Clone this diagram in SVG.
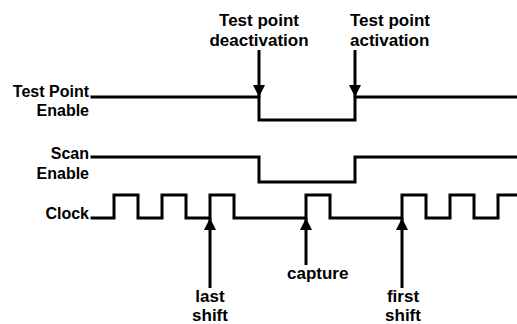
<svg xmlns="http://www.w3.org/2000/svg" width="517" height="324" viewBox="0 0 517 324">
<defs>
<style>
text{font-family:"Liberation Sans",Arial,sans-serif;font-weight:bold;fill:#000}
.lbl{font-size:16px;text-anchor:end}
.ann{font-size:17px}
.sig{fill:none;stroke:#000;stroke-width:3;stroke-linejoin:miter;stroke-linecap:square}
.arr{fill:none;stroke:#000;stroke-width:3}
</style>
<marker id="ah" viewBox="0 0 12 12" refX="12" refY="6" markerWidth="12" markerHeight="12" markerUnits="userSpaceOnUse" orient="auto">
<path d="M0,0 L12,6 L0,12 Z" fill="#000"/>
</marker>
</defs>
<rect width="517" height="324" fill="#fff"/>
<g id="tpe">
<text class="lbl" x="89" y="97">Test Point</text>
<text class="lbl" x="89" y="116">Enable</text>
<path class="sig" d="M92,97 H259 V120 H355 V97 H517"/>
</g>
<g id="se">
<text class="lbl" x="89" y="159">Scan</text>
<text class="lbl" x="89" y="179">Enable</text>
<path class="sig" d="M92,157 H259 V182 H355 V157 H517"/>
</g>
<g id="clk">
<text class="lbl" x="89" y="219">Clock</text>
<path class="sig" d="M92,218 H114 V195 H138 V218 H162 V195 H186 V218 H210 V195 H234 V218 H306 V195 H330 V218 H402 V195 H426 V218 H450 V195 H474 V218 H498 V195 H517"/>
</g>
<g id="deact">
<text class="ann" x="259" y="26" text-anchor="middle">Test point</text>
<text class="ann" x="259" y="46" text-anchor="middle">deactivation</text>
</g>
<g id="act">
<text class="ann" x="350" y="26">Test point</text>
<text class="ann" x="350" y="46">activation</text>
</g>
<g id="lastshift">
<text class="ann" x="210" y="302" text-anchor="middle">last</text>
<text class="ann" x="210" y="321" text-anchor="middle">shift</text>
</g>
<g id="capture">
<text class="ann" x="287" y="279">capture</text>
</g>
<g id="firstshift">
<text class="ann" x="403" y="302" text-anchor="middle">first</text>
<text class="ann" x="403" y="321" text-anchor="middle">shift</text>
</g>
<g id="connectors">
<line class="arr" x1="259" y1="50" x2="259" y2="97" marker-end="url(#ah)"/>
<line class="arr" x1="355" y1="50" x2="355" y2="97" marker-end="url(#ah)"/>
<line class="arr" x1="210" y1="288" x2="210" y2="218" marker-end="url(#ah)"/>
<line class="arr" x1="306" y1="265" x2="306" y2="218" marker-end="url(#ah)"/>
<line class="arr" x1="402" y1="288" x2="402" y2="218" marker-end="url(#ah)"/>
</g>
</svg>
